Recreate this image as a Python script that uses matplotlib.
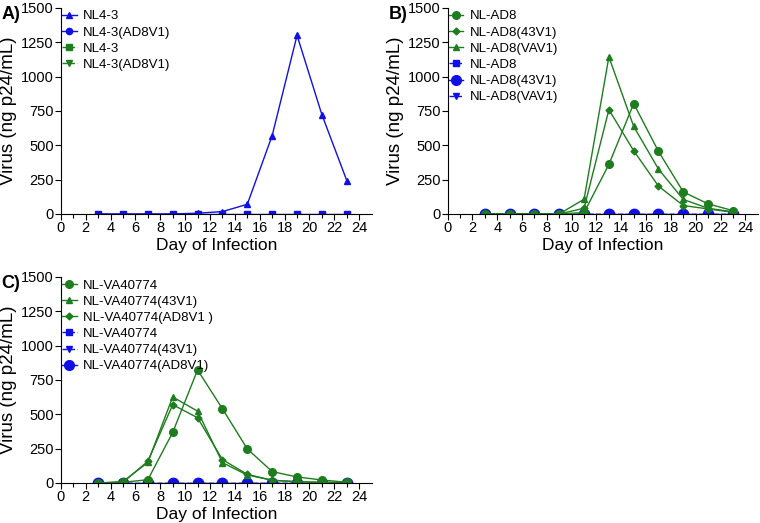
import numpy as np
import matplotlib
matplotlib.use('Agg')
import matplotlib.pyplot as plt
from matplotlib.lines import Line2D

plt.rcParams['font.family'] = ['Liberation Sans', 'DejaVu Sans']

days = [3, 5, 7, 9, 11, 13, 15, 17, 19, 21, 23]
zeros = [0] * len(days)

# panel A
nl43 = [0, 0, 0, 0, 5, 17, 70, 570, 1300, 722, 243]

# panel B
ad8 = [0, 0, 0, 0, 10, 360, 803, 455, 160, 73, 24]
ad8_43v1 = [0, 0, 0, 0, 41, 759, 460, 202, 61, 36, 12]
ad8_vav1 = [0, 0, 0, 0, 107, 1143, 637, 326, 105, 41, 15]

# panel C
va = [0, 5, 24, 368, 823, 540, 248, 83, 44, 22, 5]
va_43v1 = [0, 10, 150, 626, 523, 148, 58, 20, 10, 5, 3]
va_ad8v1 = [0, 5, 158, 570, 475, 170, 63, 20, 8, 3, 2]

green = '#1e7d1e'
blue = '#1010e6'

fig = plt.figure(figsize=(7.6, 5.23), dpi=100)
axA = fig.add_axes([0.080, 0.591, 0.409, 0.394])
axB = fig.add_axes([0.589, 0.591, 0.408, 0.394])
axC = fig.add_axes([0.080, 0.0765, 0.409, 0.394])


def style(ax, letter):
    ax.set_xlim(0, 25)
    ax.set_ylim(0, 1500)
    ax.set_xticks(np.arange(0, 25, 2))
    ax.set_xticks(np.arange(0, 25, 1), minor=True)
    ax.set_yticks(np.arange(0, 1501, 250))
    ax.spines['top'].set_visible(False)
    ax.spines['right'].set_visible(False)
    ax.tick_params(labelsize=10.5, length=4, width=0.8, pad=1)
    ax.tick_params(which='minor', length=3, width=0.8)
    ax.set_xlabel('Day of Infection', fontsize=12.5, labelpad=2)
    ax.set_ylabel('Virus (ng p24/mL)', fontsize=13.5, labelpad=3)
    ax.text(-0.19, 0.97, letter, transform=ax.transAxes, fontsize=13,
            fontweight='bold', va='center', ha='left')


def leg(ax, handles, labels):
    ax.legend(handles, labels, loc='upper left', bbox_to_anchor=(0.0, 0.995),
              frameon=False, fontsize=9.5, handlelength=1.1, handletextpad=0.5,
              labelspacing=0.3, borderaxespad=0, borderpad=0.1)


# A
axA.plot(days, zeros, color=blue, marker='s', ms=4.5, lw=1)
axA.plot(days, nl43, color=blue, marker='^', ms=4.5, lw=1)
style(axA, 'A)')
hA = [Line2D([], [], color=blue, marker='^', ms=4.5, lw=1),
      Line2D([], [], color=blue, marker='o', ms=4.5, lw=1),
      Line2D([], [], color=green, marker='s', ms=4.5, lw=1, ls='--'),
      Line2D([], [], color=green, marker='v', ms=4.5, lw=1, ls='--')]
leg(axA, hA, ['NL4-3', 'NL4-3(AD8V1)', 'NL4-3', 'NL4-3(AD8V1)'])

# B
axB.plot(days, zeros, color=blue, marker='s', ms=4.5, lw=1, ls='--')
axB.plot(days, zeros, color=blue, marker='v', ms=4.5, lw=1, ls='--')
axB.plot(days, zeros, color=blue, marker='o', ms=7.5, lw=1)
axB.plot(days, ad8_vav1, color=green, marker='^', ms=4.5, lw=1)
axB.plot(days, ad8_43v1, color=green, marker='D', ms=3.5, lw=1)
axB.plot(days, ad8, color=green, marker='o', ms=5.5, lw=1)
style(axB, 'B)')
hB = [Line2D([], [], color=green, marker='o', ms=5.5, lw=1),
      Line2D([], [], color=green, marker='D', ms=3.5, lw=1),
      Line2D([], [], color=green, marker='^', ms=4.5, lw=1),
      Line2D([], [], color=blue, marker='s', ms=4.5, lw=1, ls='--'),
      Line2D([], [], color=blue, marker='o', ms=7, lw=1),
      Line2D([], [], color=blue, marker='v', ms=4.5, lw=1, ls='--')]
leg(axB, hB, ['NL-AD8', 'NL-AD8(43V1)', 'NL-AD8(VAV1)', 'NL-AD8', 'NL-AD8(43V1)', 'NL-AD8(VAV1)'])

# C
axC.plot(days, zeros, color=blue, marker='s', ms=4.5, lw=1, ls='--')
axC.plot(days, zeros, color=blue, marker='v', ms=4.5, lw=1, ls='--')
axC.plot(days, zeros, color=blue, marker='o', ms=7.5, lw=1)
axC.plot(days, va_ad8v1, color=green, marker='D', ms=3.5, lw=1)
axC.plot(days, va_43v1, color=green, marker='^', ms=4.5, lw=1)
axC.plot(days, va, color=green, marker='o', ms=5.5, lw=1)
style(axC, 'C)')
hC = [Line2D([], [], color=green, marker='o', ms=5.5, lw=1),
      Line2D([], [], color=green, marker='^', ms=4.5, lw=1),
      Line2D([], [], color=green, marker='D', ms=3.5, lw=1),
      Line2D([], [], color=blue, marker='s', ms=4.5, lw=1, ls='--'),
      Line2D([], [], color=blue, marker='v', ms=4.5, lw=1, ls='--'),
      Line2D([], [], color=blue, marker='o', ms=7, lw=1)]
leg(axC, hC, ['NL-VA40774', 'NL-VA40774(43V1)', 'NL-VA40774(AD8V1 )', 'NL-VA40774',
              'NL-VA40774(43V1)', 'NL-VA40774(AD8V1)'])

fig.savefig('out.png', dpi=100)
